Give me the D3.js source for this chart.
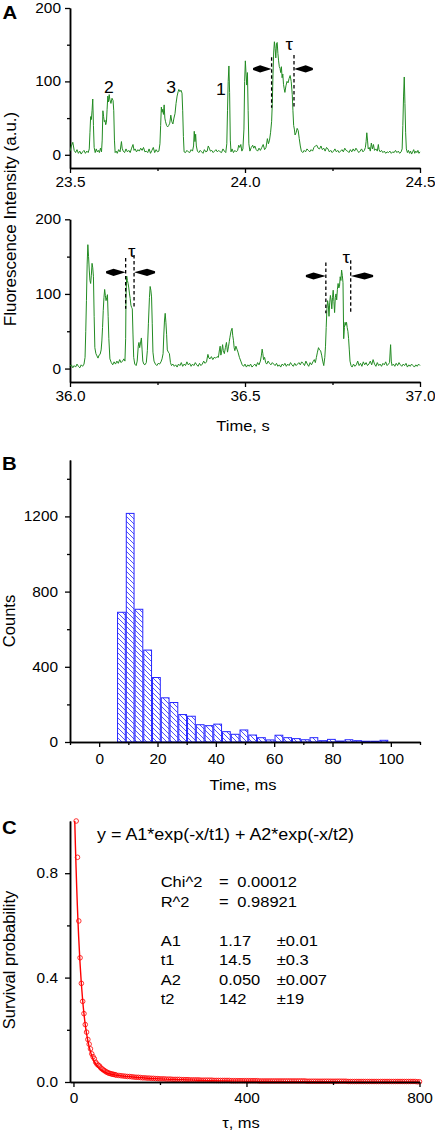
<!DOCTYPE html>
<html><head><meta charset="utf-8">
<script src="https://cdn.jsdelivr.net/npm/d3@7"></script>
<style>
body{margin:0;background:#fff;}
svg text{font-family:"Liberation Sans", Arial, Helvetica, sans-serif;fill:#000;}
</style></head><body>
<svg id="c" width="435" height="1131"></svg>
<script>
// ---------------- DATA ----------------
// Panel A, upper trace: window start (s), then [ms offset, intensity a.u.]
const traceTopStart = 23.5;
const traceTop = [[0,5],[4,12],[8,17],[12,6],[16,3],[20,7],[24,2],[28,5],[32,1],[36,4],[40,6],[44,2],[48,5],[52,3],[55,8],[57,30],[59,52],[61,48],[63,60],[65,76],[67,40],[69,10],[72,3],[75,8],[78,4],[81,6],[84,3],[87,9],[90,4],[92,20],[94,60],[96,52],[98,45],[100,47],[102,41],[104,44],[106,62],[108,80],[110,72],[112,82],[114,75],[117,70],[120,77],[123,74],[125,60],[127,20],[129,3],[132,5],[135,2],[139,7],[143,4],[147,18],[149,9],[152,5],[156,3],[160,8],[164,4],[168,6],[172,3],[176,9],[180,14],[183,6],[186,8],[190,4],[194,7],[198,5],[202,9],[206,6],[210,10],[214,4],[218,5],[222,3],[226,8],[230,2],[234,6],[238,10],[242,3],[246,7],[250,4],[254,5],[257,15],[259,40],[261,65],[263,58],[265,62],[267,55],[269,68],[271,50],[273,45],[276,40],[279,38],[282,40],[285,43],[288,54],[291,45],[294,42],[297,50],[300,56],[303,70],[306,80],[309,86],[311,89],[314,86],[317,88],[320,84],[322,60],[324,25],[326,4],[330,3],[334,6],[338,4],[342,3],[346,7],[350,5],[353,12],[355,32],[357,18],[359,28],[361,12],[364,5],[368,3],[372,6],[376,4],[380,2],[384,7],[388,4],[392,5],[395,12],[398,9],[401,5],[405,6],[409,3],[413,5],[417,7],[421,4],[425,6],[429,4],[433,3],[437,8],[441,5],[445,3],[448,15],[450,60],[452,100],[454,121],[456,85],[458,20],[460,4],[463,8],[467,3],[471,6],[475,4],[479,6],[482,13],[485,10],[488,14],[491,5],[494,8],[497,35],[499,100],[501,128],[503,110],[505,95],[507,112],[509,60],[511,15],[514,5],[518,10],[522,13],[525,9],[528,12],[532,7],[536,5],[540,9],[544,6],[548,10],[552,14],[556,7],[560,10],[564,22],[567,15],[570,20],[573,30],[576,45],[578,70],[580,110],[582,140],[584,154],[586,145],[588,132],[590,152],[592,153],[594,138],[596,128],[598,120],[600,118],[602,112],[604,120],[606,105],[608,110],[610,96],[612,90],[614,85],[617,94],[620,100],[623,98],[626,104],[629,108],[632,100],[635,82],[637,60],[639,40],[641,35],[643,27],[646,30],[649,36],[652,33],[655,22],[658,12],[661,5],[665,3],[669,6],[673,4],[677,8],[681,6],[685,4],[689,7],[693,5],[697,10],[701,12],[705,13],[709,9],[713,8],[717,12],[721,7],[725,9],[729,5],[733,10],[737,8],[741,4],[745,6],[749,3],[753,5],[757,8],[761,4],[765,6],[769,3],[773,5],[777,7],[781,4],[785,9],[789,6],[793,5],[797,3],[801,7],[805,4],[809,8],[813,5],[817,9],[821,6],[825,3],[829,5],[833,8],[837,4],[841,6],[844,10],[846,18],[848,30],[850,20],[852,8],[855,10],[858,5],[861,16],[864,8],[867,14],[870,6],[874,8],[878,5],[881,14],[883,7],[886,4],[890,6],[894,3],[898,5],[902,2],[906,4],[910,3],[914,5],[918,2],[922,4],[926,3],[930,6],[934,3],[938,5],[942,2],[946,4],[949,8],[951,40],[953,80],[955,106],[957,70],[959,30],[961,8],[964,3],[967,6],[970,2],[973,5],[976,1],[979,4],[982,7],[985,2],[988,5],[991,3],[994,6],[997,2],[1000,4]];

// Panel A, lower trace
const traceBottomStart = 36.0;
const traceBottom = [[0,3],[4,5],[8,1],[12,4],[16,2],[20,6],[24,3],[28,1],[32,5],[36,3],[40,6],[43,15],[45,50],[47,91],[49,140],[51,166],[53,150],[55,132],[57,118],[59,114],[61,125],[63,141],[65,135],[67,123],[69,70],[71,28],[74,20],[77,17],[80,14],[83,18],[86,19],[89,25],[91,37],[93,55],[95,78],[97,95],[99,106],[101,98],[103,91],[105,95],[107,99],[109,70],[111,40],[114,13],[118,8],[122,5],[126,9],[130,6],[134,10],[138,7],[142,12],[146,8],[150,10],[154,13],[157,10],[159,40],[160,96],[162,124],[164,118],[166,114],[168,108],[170,100],[172,94],[174,85],[176,82],[178,80],[180,45],[182,15],[185,6],[189,4],[192,10],[195,30],[197,35],[199,28],[201,33],[204,41],[206,25],[208,10],[211,6],[214,5],[218,8],[221,24],[224,60],[227,95],[229,110],[231,105],[233,96],[235,60],[237,22],[240,10],[244,6],[248,4],[252,7],[256,6],[260,9],[263,13],[266,20],[268,45],[270,65],[272,74],[274,62],[276,46],[278,25],[281,22],[284,20],[287,8],[290,4],[294,6],[298,3],[302,5],[306,2],[310,6],[314,4],[318,8],[322,3],[326,6],[330,4],[334,9],[338,5],[342,7],[346,3],[350,6],[354,4],[358,8],[362,5],[366,3],[370,7],[374,4],[378,6],[382,10],[386,7],[390,9],[394,19],[397,14],[400,13],[404,16],[408,12],[412,15],[416,14],[420,16],[424,15],[427,25],[429,30],[431,18],[433,22],[436,32],[438,24],[441,20],[444,28],[447,35],[450,22],[453,30],[455,36],[457,42],[460,50],[463,54],[465,44],[467,38],[469,28],[471,24],[474,30],[477,26],[480,22],[484,15],[488,10],[492,5],[496,3],[500,6],[504,2],[508,5],[512,3],[516,6],[520,2],[524,4],[528,6],[532,3],[536,8],[540,5],[544,10],[547,18],[549,26],[551,20],[553,12],[556,15],[559,8],[562,6],[566,10],[570,7],[574,5],[578,8],[582,6],[586,4],[590,7],[594,3],[598,5],[602,2],[606,6],[610,4],[614,7],[618,3],[622,6],[626,4],[630,8],[634,5],[638,3],[642,7],[646,4],[650,6],[654,8],[658,5],[662,9],[666,7],[670,4],[674,10],[678,6],[682,3],[686,8],[690,5],[694,9],[698,12],[701,8],[704,15],[707,22],[710,28],[713,25],[716,24],[719,18],[722,10],[725,4],[728,15],[730,30],[732,55],[734,80],[736,91],[738,85],[740,70],[742,88],[744,98],[746,92],[748,80],[750,95],[752,105],[754,90],[756,75],[758,95],[760,100],[762,92],[764,106],[766,114],[768,108],[770,110],[772,123],[774,118],[776,132],[778,125],[780,115],[782,40],[784,55],[786,62],[788,58],[790,62],[792,55],[794,50],[796,40],[798,25],[800,10],[803,4],[806,2],[810,6],[814,3],[818,5],[822,10],[826,4],[830,7],[834,3],[838,9],[842,5],[846,8],[850,4],[854,6],[858,10],[862,5],[866,12],[870,6],[874,3],[878,8],[882,4],[886,6],[890,3],[894,7],[898,5],[902,9],[906,4],[910,6],[913,8],[915,25],[916,32],[918,10],[920,4],[924,6],[928,3],[932,7],[936,4],[940,8],[944,5],[948,3],[952,6],[956,4],[960,7],[964,2],[968,5],[972,3],[976,6],[980,4],[984,2],[988,5],[992,3],[996,6],[1000,4]];

// Panel B: dwell-time histogram
const binStartMs = [6.3,9.3,12.3,15.3,18.3,21.3,24.3,27.3,30.3,33.3,36.3,39.3,42.3,45.3,48.3,51.3,54.3,57.3,60.3,63.3,66.3,69.3,72.3,75.3,78.3,81.3,84.3,87.3,90.3,93.3,96.3];
const binWidthMs = 3;
const binCounts = [690,1216,706,489,343,235,210,146,137,92,87,95,55,41,64,37,23,11,36,23,18,12,23,7,14,5,12,7,4,4,9];

// Panel C: survival probability data
const survTau = [6.3,9.3,12.3,15.3,18.3,21.3,24.3,27.3,30.3,33.3,36.3,39.3,42.3,45.3,48.3,51.3,54.3,57.3,60.3,63.3,66.3,69.3,72.3,75.3,78.3,81.3,84.3,87.3,90.3,93.3,96.3,99.3,
105,110,115,120,125,130,135,140,145,150,155,160,165,170,175,180,185,190,195,200,
205,210,215,220,225,230,235,240,245,250,255,260,265,270,275,280,285,290,295,300,
305,310,315,320,325,330,335,340,345,350,355,360,365,370,375,380,385,390,395,400,
405,410,415,420,425,430,435,440,445,450,455,460,465,470,475,480,485,490,495,500,
505,510,515,520,525,530,535,540,545,550,555,560,565,570,575,580,585,590,595,600,
605,610,615,620,625,630,635,640,645,650,655,660,665,670,675,680,685,690,695,700,
705,710,715,720,725,730,735,740,745,750,755,760,765,770,775,780,785,790,795,800];
const survProb = [1.0,0.861,0.617,0.476,0.378,0.309,0.262,0.220,0.191,0.163,0.145,0.127,0.108,0.097,0.089,0.076,0.069,0.064,0.061,0.054,0.050,0.046,0.043,0.039,0.037,0.034,0.033,0.031,0.030,0.029,0.028,0.026,
0.025,0.024,0.023,0.022,0.021,0.021,0.020,0.019,0.018,0.018,0.017,0.016,0.016,0.015,0.015,0.014,0.014,0.013,0.013,0.012,
0.012,0.012,0.011,0.011,0.011,0.010,0.010,0.010,0.010,0.009,0.009,0.009,0.009,0.008,0.008,0.008,0.008,0.008,0.007,0.007,
0.007,0.007,0.007,0.007,0.006,0.006,0.006,0.006,0.006,0.006,0.006,0.006,0.005,0.005,0.005,0.005,0.005,0.005,0.005,0.005,
0.005,0.005,0.005,0.005,0.005,0.004,0.004,0.004,0.004,0.004,0.004,0.004,0.004,0.004,0.004,0.004,0.004,0.004,0.004,0.004,
0.004,0.004,0.004,0.004,0.004,0.004,0.004,0.003,0.003,0.003,0.003,0.003,0.003,0.003,0.003,0.003,0.003,0.003,0.003,0.003,
0.003,0.003,0.003,0.003,0.003,0.003,0.002,0.002,0.002,0.002,0.002,0.002,0.002,0.002,0.002,0.002,0.002,0.002,0.002,0.002,
0.002,0.002,0.002,0.002,0.002,0.002,0.002,0.002,0.002,0.002,0.002,0.002,0.002,0.002,0.002,0.002,0.002,0.002,0.001,0.001];
// Panel C: fitted curve
const fitTau = [3,4.5,6,7.5,9,10.5,12,15,18,21,24,27,30,35,40,45,50,60,70,80,100,125,150,200,250,300,400,500,600,700,800];
const fitProb = [1.0,0.906,0.822,0.745,0.676,0.614,0.557,0.461,0.382,0.318,0.266,0.223,0.188,0.144,0.112,0.089,0.072,0.052,0.040,0.033,0.026,0.021,0.017,0.012,0.009,0.006,0.003,0.0015,0.0007,0.0004,0.0002];
const fitEquation = "y = A1*exp(-x/t1) + A2*exp(-x/t2)";
const fitStats = [["Chi^2","=","0.00012"],["R^2","=","0.98921"]];
const fitParams = [["A1","1.17","±0.01"],["t1","14.5","±0.3"],["A2","0.050","±0.007"],["t2","142","±19"]];

// ---------------- DRAWING ----------------
const SX = 1.1; // horizontal text stretch of the original figure
const svg = d3.select("#c");
const GREEN = "#228b22", BLUE = "#2626ff", RED = "#ff0000";

function stretchTicks(sel){
  sel.selectAll(".tick text").each(function(){
    const t = d3.select(this);
    const x = +t.attr("x") || 0, y = +t.attr("y") || 0;
    t.attr("x", null).attr("y", null)
     .attr("transform", `translate(${x},${y}) scale(${SX},1)`);
  });
}
function txt(g, x, y, s, size, anchor, extra){
  const t = g.append("text").attr("transform", `translate(${x},${y}) scale(${SX},1)`)
    .attr("font-size", size).attr("text-anchor", anchor || "start").text(s);
  if (extra) extra(t);
  return t;
}
function vtxt(g, x, y, s, size){
  return g.append("text").attr("transform", `translate(${x},${y}) rotate(-90)`)
    .attr("font-size", size).attr("text-anchor", "middle").text(s);
}
function axes(g, x, y, o){
  const yb = y.range()[0], xl = x.range()[0];
  const ax = g.append("g").attr("transform", `translate(0,${yb})`)
    .call(d3.axisBottom(x).tickValues(o.xMajor).tickFormat(o.xFmt).tickSizeInner(5).tickSizeOuter(0).tickPadding(o.xPad));
  const axm = g.append("g").attr("transform", `translate(0,${yb})`)
    .call(d3.axisBottom(x).tickValues(o.xMinor).tickFormat("").tickSizeInner(3).tickSizeOuter(0));
  const ay = g.append("g").attr("transform", `translate(${xl},0)`)
    .call(d3.axisLeft(y).tickValues(o.yMajor).tickFormat(o.yFmt).tickSizeInner(5).tickSizeOuter(0).tickPadding(o.yPad));
  const aym = g.append("g").attr("transform", `translate(${xl},0)`)
    .call(d3.axisLeft(y).tickValues(o.yMinor).tickFormat("").tickSizeInner(3).tickSizeOuter(0));
  [ax, axm, ay, aym].forEach(a => {
    a.select(".domain").attr("stroke", "#000").attr("stroke-width", 1.5);
    a.selectAll(".tick line").attr("stroke", "#000").attr("stroke-width", 1.3);
    a.selectAll(".tick text").attr("font-size", 14).attr("font-family", null).attr("fill", "#000");
  });
  stretchTicks(ax); stretchTicks(ay);
}
function arrow(g, xTip, y, dir, len){
  const xt = xTip - dir*len, xm = xTip - dir*len*0.62;
  g.append("path").attr("d", `M${xt},${y-1}L${xm},${y-3.6}L${xTip},${y}L${xm},${y+3.6}L${xt},${y+1}Z`)
    .attr("fill", "#000");
}
function dashed(g, x, y1, y2){
  g.append("line").attr("x1", x).attr("x2", x).attr("y1", y1).attr("y2", y2)
    .attr("stroke", "#000").attr("stroke-width", 1.3).attr("stroke-dasharray", "3.5,2.5");
}

// ----- Panel A -----
const gA = svg.append("g");
function tracePanel(start, data, yTop, yBot){
  const x = d3.scaleLinear().domain([start, start + 1]).range([70, 420]);
  const y = d3.scaleLinear().domain([-18, 200]).range([yBot, yTop]);
  const fmt = d3.format(".1f");
  axes(gA, x, y, {xMajor:[start, start+0.5, start+1], xMinor:[start+0.25, start+0.75], xFmt: fmt, xPad: 4,
                  yMajor:[0,100,200], yMinor:[50,150], yFmt: d3.format("d"), yPad: 4});
  gA.append("path").datum(data)
    .attr("d", d3.line().x(d => x(start + d[0]/1000)).y(d => y(d[1])))
    .attr("fill", "none").attr("stroke", GREEN).attr("stroke-width", 1).attr("stroke-linejoin", "round");
  return {x, y};
}
const pTop = tracePanel(traceTopStart, traceTop, 8, 168);
const pBot = tracePanel(traceBottomStart, traceBottom, 219.3, 382);

// annotations, top trace
{
  const {x, y} = pTop;
  txt(gA, x(23.611), y(84), "2", 16, "middle");
  txt(gA, x(23.789), y(84), "3", 16, "middle");
  txt(gA, x(23.931), y(82), "1", 16, "middle");
  txt(gA, x(24.126), y(143), "τ", 17, "middle");
  dashed(gA, x(24.076), y(133), y(64));
  dashed(gA, x(24.140), y(136), y(64));
  arrow(gA, x(24.076), y(117), 1, x(24.076) - x(24.023));
  arrow(gA, x(24.140), y(117), -1, x(24.194) - x(24.140));
}
{
  const {x, y} = pBot;
  txt(gA, x(36.176), y(149), "τ", 17, "middle");
  dashed(gA, x(36.159), y(148), y(80));
  dashed(gA, x(36.183), y(152), y(80));
  arrow(gA, x(36.159), y(129), 1, x(36.159) - x(36.103));
  arrow(gA, x(36.183), y(129), -1, x(36.243) - x(36.183));
  txt(gA, x(36.789), y(141), "τ", 17, "middle");
  dashed(gA, x(36.731), y(142), y(74));
  dashed(gA, x(36.802), y(145), y(74));
  arrow(gA, x(36.731), y(124), 1, x(36.731) - x(36.674));
  arrow(gA, x(36.802), y(124), -1, x(36.866) - x(36.802));
}
txt(gA, 2.5, 18.5, "A", 18.5, "start", t => t.attr("font-weight", "bold"));
vtxt(gA, 15.5, 219, "Fluorescence Intensity (a.u.)", 17);
txt(gA, 243, 431, "Time, s", 15, "middle");

// ----- Panel B -----
const gB = svg.append("g");
{
  const x = d3.scaleLinear().domain([-10, 110]).range([70, 420]);
  const y = d3.scaleLinear().domain([0, 1500]).range([742, 460]);
  const defs = svg.append("defs");
  const pat = defs.append("pattern").attr("id", "hatch").attr("patternUnits", "userSpaceOnUse")
    .attr("width", 5).attr("height", 5);
  pat.append("path").attr("d", "M0,0L5,5M-1,4L1,6M4,-1L6,1")
    .attr("stroke", BLUE).attr("stroke-width", 0.8);
  const bins = binStartMs.map((s, i) => ({s, c: binCounts[i]}));
  gB.selectAll("rect.bar").data(bins).join("rect").attr("class", "bar")
    .attr("x", d => x(d.s)).attr("width", d => x(d.s + binWidthMs) - x(d.s) - 1)
    .attr("y", d => y(d.c)).attr("height", d => y(0) - y(d.c))
    .attr("fill", "url(#hatch)").attr("stroke", BLUE).attr("stroke-width", 1);
  axes(gB, x, y, {xMajor:[0,20,40,60,80,100], xMinor:[-10,10,30,50,70,90,110], xFmt: d3.format("d"), xPad: 7,
                  yMajor:[0,400,800,1200], yMinor:[200,600,1000,1400], yFmt: d3.format("d"), yPad: 7});
}
txt(gB, 2, 470, "B", 18.5, "start", t => t.attr("font-weight", "bold"));
vtxt(gB, 15, 621, "Counts", 16.5);
txt(gB, 243, 790, "Time, ms", 15, "middle");

// ----- Panel C -----
const gC = svg.append("g");
{
  const x = d3.scaleLinear().domain([-8, 800]).range([70, 419.5]);
  const y = d3.scaleLinear().domain([0, 1.0]).range([1082, 821]);
  const pts = survTau.map((t, i) => [t, survProb[i]]);
  gC.selectAll("circle.pt").data(pts).join("circle").attr("class", "pt")
    .attr("cx", d => x(d[0])).attr("cy", d => y(d[1])).attr("r", 2.3)
    .attr("fill", "none").attr("stroke", RED).attr("stroke-width", 0.8);
  const fit = fitTau.map((t, i) => [t, fitProb[i]]);
  gC.append("path").datum(fit)
    .attr("d", d3.line().curve(d3.curveMonotoneX).x(d => x(d[0])).y(d => y(d[1])))
    .attr("fill", "none").attr("stroke", RED).attr("stroke-width", 1.4);
  axes(gC, x, y, {xMajor:[0,400,800], xMinor:[200,600], xFmt: d3.format("d"), xPad: 6,
                  yMajor:[0,0.4,0.8], yMinor:[0.2,0.6], yFmt: d3.format(".1f"), yPad: 7});
}
txt(gC, 2, 833.5, "C", 18.5, "start", t => t.attr("font-weight", "bold"));
vtxt(gC, 14.5, 960, "Survival probability", 16.5);
txt(gC, 241, 1128, "τ, ms", 15, "middle");
txt(gC, 97, 840, fitEquation, 16.3, "start");
fitStats.forEach((r, i) => {
  const yy = 887.3 + i*19.6;
  txt(gC, 160.7, yy, r[0], 15); txt(gC, 219, yy, r[1], 15); txt(gC, 237.3, yy, r[2], 15);
});
fitParams.forEach((r, i) => {
  const yy = 946 + i*19.35;
  txt(gC, 160.7, yy, r[0], 15); txt(gC, 219, yy, r[1], 15); txt(gC, 276.7, yy, r[2], 15);
});
</script>
</body></html>
